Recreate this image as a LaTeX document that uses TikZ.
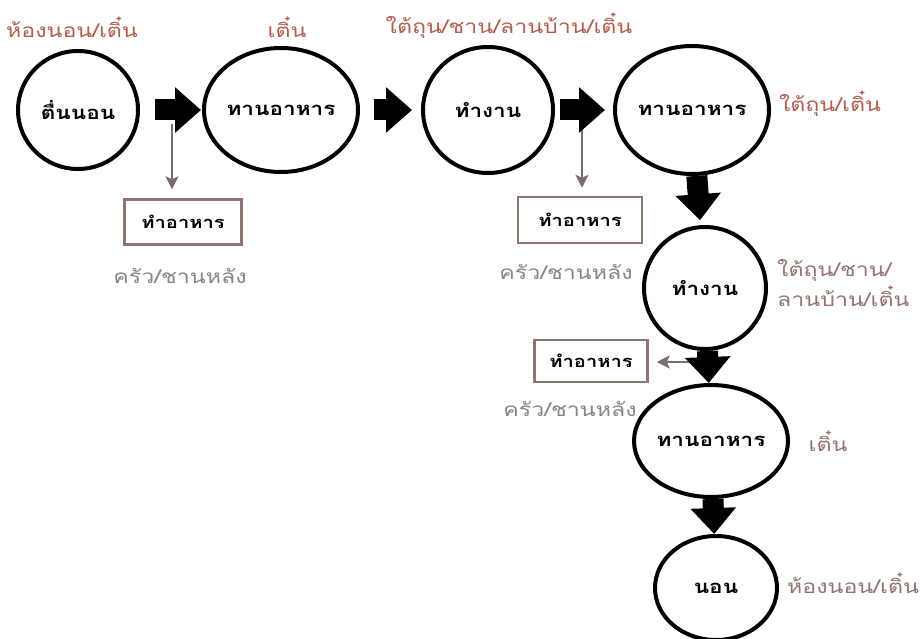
\documentclass[tikz,border=0pt]{standalone}
\usepackage{fontspec}
\newfontfamily\thai[Script=Thai,FakeStretch=1.22]{Loma}
\usetikzlibrary{shapes.geometric,arrows.meta}
\definecolor{labred}{HTML}{B0604F}
\definecolor{labbrown}{HTML}{927570}
\definecolor{kitgray}{HTML}{8A8383}
\definecolor{boxcol}{HTML}{8C7572}
\definecolor{smallcol}{HTML}{7A6E6C}
\begin{document}
\begin{tikzpicture}[x=1pt,y=-1pt,
  act/.style={ellipse,draw=black,line width=4pt,inner sep=0pt,
    font=\thai\fontsize{18.5}{22}\selectfont\bfseries},
  task/.style={rectangle,draw=boxcol,line width=2.5pt,inner sep=0pt,
    font=\thai\fontsize{16.5}{20}\selectfont\bfseries},
  place/.style={font=\thai\fontsize{19}{24}\selectfont,text=labred,inner sep=0pt},
  placeb/.style={font=\thai\fontsize{19}{30}\selectfont,text=labbrown,inner sep=0pt},
  kitchen/.style={font=\thai\fontsize{19}{24}\selectfont,text=kitgray,inner sep=0pt},
  bigarrow/.style={draw=black,line width=21pt,-{Triangle[length=26pt,width=44pt]}},
  smallarrow/.style={draw=smallcol,line width=1.4pt,-{Stealth[length=13pt,width=13pt,inset=3pt]}}]
\useasboundingbox (0,0) rectangle (920,639);
% activities
\node[act,minimum width=120pt,minimum height=118pt] (c1) at (78,110) {ตื่นนอน};
\node[act,minimum width=136pt,minimum height=124pt] (c2) at (281,110) {ทานอาหาร};
\node[act,minimum width=130pt,minimum height=126pt] (c3) at (488,110) {ทำงาน};
\node[act,minimum width=128pt,minimum height=128pt] (c4) at (692,110) {ทานอาหาร};
\node[act,minimum width=122pt,minimum height=122pt] (c5) at (705,288) {ทำงาน};
\node[act,minimum width=144pt,minimum height=112pt] (c6) at (711,441) {ทานอาหาร};
\node[act,minimum width=122pt,minimum height=104pt] (c7) at (716,588) {นอน};
% tasks
\node[task,minimum width=117pt,minimum height=45pt] (k1) at (183,222) {ทำอาหาร};
\node[task,minimum width=124pt,minimum height=46pt] (k2) at (580,220) {ทำอาหาร};
\node[task,minimum width=113pt,minimum height=42pt] (k3) at (591,361) {ทำอาหาร};
% place labels
\node[place] (p1) at (72,27) {ห้องนอน/เติ๋น};
\node[place] (p2) at (287,27) {เติ๋น};
\node[place] (p3) at (509,26) {ใต้ถุน/ชาน/ลานบ้าน/เติ๋น};
\node[place] (p4) at (830,104) {ใต้ถุน/เติ๋น};
\node[placeb,anchor=west,align=left] (p5) at (777,283) {ใต้ถุน/ชาน/\\ลานบ้าน/เติ๋น};
\node[placeb] (p6) at (828,441) {เติ๋น};
\node[placeb] (p7) at (853,583) {ห้องนอน/เติ๋น};
\node[kitchen] (l1) at (180,276) {ครัว/ชานหลัง};
\node[kitchen] (l2) at (566,272) {ครัว/ชานหลัง};
\node[kitchen] (l3) at (570,409) {ครัว/ชานหลัง};
% small arrows
\coordinate (s1) at (172,124);
\coordinate (s2) at (582,124);
\coordinate (s3) at (692,362);
\draw[smallarrow,shorten >=9pt] (s1) -- (s1 |- k1.north);
\draw[smallarrow,shorten >=8pt] (s2) -- (s2 |- k2.north);
\draw[smallarrow,shorten >=8pt] (s3) -- (s3 -| k3.east);
% big arrows
\draw[bigarrow,shorten <=15pt,shorten >=1pt] (c1) -- (c2);
\draw[bigarrow,shorten <=14pt,shorten >=9pt] (c2) -- (c3);
\draw[bigarrow,shorten <=5pt,shorten >=8pt] (c3) -- (c4);
\draw[bigarrow,shorten <=0pt,shorten >=5pt] (c4) -- (c5);
\draw[bigarrow] (c5) -- (c6);
\draw[bigarrow] (c6) -- (c7);
\end{tikzpicture}
\end{document}
